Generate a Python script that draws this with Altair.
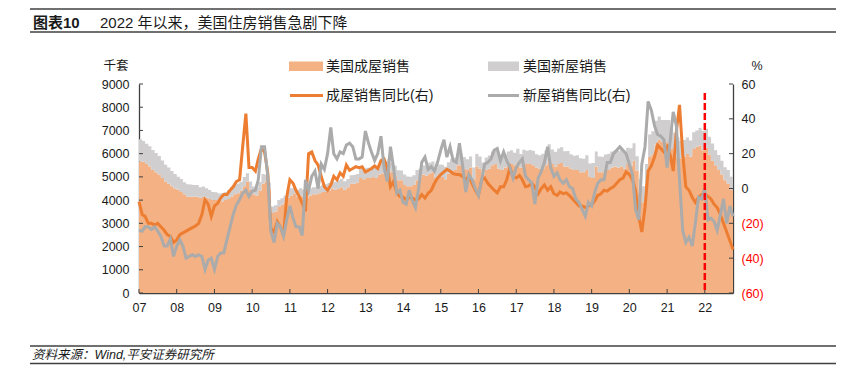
import altair as alt
import pandas as pd

# ---------------- data ----------------
months = pd.date_range("2007-01-01", "2022-10-01", freq="MS")
tick_years = list(range(2007, 2023))

# 美国成屋销售 (千套)
existing_sales = [
    5660, 5650, 5550, 5450, 5300, 5200, 5100, 4950, 4800, 4700, 4600, 4500,
    4450, 4350, 4250, 4150, 4150, 4150, 4150, 4100, 4150, 4100, 4050, 4000,
    4000, 3950, 3950, 4000, 4050, 4150, 4250, 4300, 4400, 4600, 4800, 4450,
    4250, 4200, 4400, 4700, 4800, 4450, 3450, 3500, 3700, 3800, 3900, 4100,
    4200, 4300, 4150, 4200, 4150, 4100, 4200, 4250, 4250, 4300, 4350, 4350,
    4400, 4500, 4450, 4500, 4550, 4450, 4550, 4700, 4700, 4750, 4950, 4900,
    4950, 4950, 5000, 4950, 5100, 5150, 5300, 5350, 5200, 5050, 4850, 4850,
    4650, 4600, 4600, 4650, 4850, 4950, 5100, 5050, 5150, 5200, 4950, 5050,
    5000, 4900, 5150, 5250, 5300, 5500, 5500, 5350, 5300, 5400, 4900, 5450,
    5350, 5100, 5300, 5350, 5500, 5550, 5350, 5300, 5400, 5500, 5550, 5500,
    5600, 5400, 5550, 5550, 5550, 5500, 5400, 5350, 5350, 5500, 5700, 5550,
    5450, 5550, 5600, 5450, 5450, 5350, 5300, 5300, 5200, 5200, 5300, 5000,
    4950, 5450, 5200, 5200, 5350, 5300, 5400, 5450, 5400, 5450, 5350, 5550,
    5460, 5700, 5270, 4330, 3910, 4720, 5860, 5970, 6400, 6600, 6500, 6500,
    6450, 6200, 6000, 5850, 5800, 5870, 5990, 5880, 6200, 6300, 6350, 6150,
    6250, 5950, 5700, 5500, 5300, 5100, 4850, 4700, 4450, 4150,
]

# 美国新屋销售 (千套, stacked on top)
new_sales = [
    960, 900, 880, 870, 860, 830, 800, 760, 720, 700, 650, 620,
    560, 560, 520, 530, 520, 500, 500, 450, 440, 410, 390, 350,
    340, 340, 350, 340, 370, 400, 410, 410, 390, 400, 360, 350,
    340, 340, 380, 420, 290, 300, 280, 280, 300, 280, 290, 330,
    310, 280, 300, 310, 300, 300, 300, 300, 310, 310, 310, 330,
    340, 350, 340, 360, 370, 360, 360, 370, 380, 370, 390, 390,
    440, 440, 440, 430, 430, 460, 380, 420, 400, 430, 440, 430,
    450, 420, 410, 420, 450, 410, 390, 440, 460, 460, 440, 480,
    520, 540, 480, 520, 520, 480, 510, 510, 460, 480, 500, 540,
    530, 520, 530, 570, 590, 560, 630, 560, 560, 590, 600, 540,
    610, 590, 620, 580, 610, 630, 570, 580, 650, 640, 710, 630,
    630, 670, 680, 650, 660, 630, 610, 630, 600, 580, 630, 580,
    650, 640, 680, 670, 610, 700, 690, 690, 720, 730, 720, 700,
    770, 750, 620, 570, 690, 830, 970, 1000, 1020, 1000, 950, 950,
    1000, 850, 900, 850, 750, 720, 710, 690, 720, 700, 760, 840,
    820, 780, 740, 650, 640, 590, 560, 600, 560, 480,
]

# 成屋销售同比 (%, right axis)
existing_yoy = [
    -7.5, -15, -16, -20, -20, -21, -20, -22, -24, -26.5, -27.5, -31,
    -29.5, -26.5, -25.5, -24.5, -23.5, -22.5, -21.5, -20, -15, -6.5, -9, -16,
    -10, -8.5, -5.5, -3.5, -3.5, -1, 1, 4, 5, 24, 43, 12,
    12, 10, 17, 23, 21, 9, -23, -25, -19, -22, -27, -5,
    5, 3, -1, -4.5, -8.5, -13, 20, 21, 16, 13.5, 7, 1,
    -1, 2, 7, 5, 9, 7, 13.5, 10.5, 11.5, 12.5, 12, 12.5,
    9.5, 10.5, 11.5, 13, 11.5, 16, 17, 11.5, 1, 4, -2.5, -4.5,
    -5, -6.5, -5, -5.5, -6.5, -6, -3.5, -5.5, -2.7, -1, 3, 6,
    8, 9.5, 11, 10, 8.5, 8, 8, 7, 5, 7, 3, -1,
    -4, 5, 6, 3, 1, -1, -2.5, 1, 1, 5, 12, 7,
    6, 7.5, 5, 1, 1.5, 3, 1, -3, 0, 2, -1, 1,
    -3, -4, -2, -3, -2.5, -4, -6, -8, -10, -10, -11, -10,
    -9.5, -7, -4, -3, -1, -1.5, 0, 1, 3, 5, 6, 9.5,
    8, 5, -1, -16, -25, -11, 10, 13, 18, 25, 23, 21,
    24, 19, 10, 33, 48, 20, 1, -1, -5, -8, -5, -3.5,
    -3, -4.5, -6, -9, -11, -15, -20, -25, -30, -35,
]

# 新屋销售同比 (%, right axis)
new_yoy = [
    -24, -24.5, -22, -22, -23.5, -22, -24.5, -27.5, -33, -33, -29, -39,
    -33, -29.5, -33, -40, -39, -38, -39, -38, -39, -46.5, -41, -40,
    -46.5, -39, -37, -37, -29.5, -22, -15, -9.5, -6.5, -2.7, -1, -4.5,
    -1.5, -1, 5, 24, 24, 7, -24.5, -31, -20, -22, -27.5, -18,
    -10, -17, -22, -22, -27, 5, -1, 7, 10, 0, 14, 11,
    20, 35, 20, 17, 21, 20, 25, 26, 24, 17, 17, 18,
    33, 26, 21, 16, 20, 30, 12, 4, 24, 12, -2.7, -1,
    -8, -9, -1, -7, -11, 0, 15, 18, 11, 12.5, 10, 15,
    22, 28, 18, 24, 16, 15, 26, 13, -2, 8, 5, 0,
    -4, 5, 14, 15, 17, 22, 23, 16, 21, 16, 12, 6,
    12, 15, 17, 7, 5, 3, -9, 6, 10, 15, 24, 12,
    7, 9, 5, 3, 5, 1, 0, -6, -8, -12, -16, -8,
    -10, -2, 3, 5, 5, 15, 15, 20, 22, 24, 22, 20,
    14, 8, -12, -18, 14, 24, 50, 45, 36, 31, 30, 28,
    12, 28, 44, 36, 5, -24, -31, -28, -33, -20, -5, -6,
    0, -18, -17, -19, -24, -15, -6, -20, -10, -16,
]

left_ticks = [0, 1000, 2000, 3000, 4000, 5000, 6000, 7000, 8000, 9000]
right_ticks = [-60, -40, -20, 0, 20, 40, 60]
marker_date = ["2022-01-01"]

title_tag = "图表10"
title_text = "2022 年以来，美国住房销售急剧下降"
source_text = "资料来源：Wind,平安证券研究所"
legend_labels = ["美国成屋销售", "美国新屋销售", "成屋销售同比(右)", "新屋销售同比(右)"]

# ---------------- styling ----------------
W, H = 594, 209
FONT = "'Liberation Sans', 'Noto Sans CJK SC', sans-serif"
ORANGE_AREA = "#F4B183"
GRAY_AREA = "#D0CECE"
ORANGE_LINE = "#ED7D31"
GRAY_LINE = "#ABABAB"
AXIS_COLOR = "#404040"
TEXT_COLOR = "#1a1a1a"

df = pd.DataFrame({
    "date": months,
    "exist": existing_sales,
    "new": new_sales,
    "ey": existing_yoy,
    "ny": new_yoy,
})

x_scale = alt.Scale(domain=[alt.DateTime(year=2007, month=1, date=1),
                            alt.DateTime(year=2022, month=10, date=1)])
x_axis = alt.Axis(
    values=[alt.DateTime(year=y, month=1, date=1) for y in tick_years],
    labelExpr="timeFormat(datum.value, '%y')",
    title=None, ticks=False, tickSize=0, grid=False, labelAngle=0,
    labelFlush=False, labelOverlap=False, labelPadding=8,
    labelFontSize=12.5, labelColor=TEXT_COLOR,
    domainColor=AXIS_COLOR, domainWidth=1.3,
)


def X():
    return alt.X("date:T", scale=x_scale, axis=x_axis)


ly_scale = alt.Scale(domain=[0, 9000], nice=False)
ly_axis = alt.Axis(
    values=left_ticks, format="d", title=None, ticks=False, tickSize=0,
    grid=False, labelPadding=10, labelFontSize=12.5, labelColor=TEXT_COLOR,
    domainColor=AXIS_COLOR, domainWidth=1.3, orient="left",
)
ry_scale = alt.Scale(domain=[-60, 60], nice=False)
ry_axis = alt.Axis(
    values=right_ticks,
    labelExpr="datum.value < 0 ? '(' + (-datum.value) + ')' : '' + datum.value",
    labelColor={"expr": "datum.value < 0 ? '#FF0000' : '#1a1a1a'"},
    title=None, ticks=False, tickSize=0, grid=False, labelPadding=8,
    labelFontSize=12.5, domainColor=AXIS_COLOR, domainWidth=1.3, orient="right",
)

base = alt.Chart(df)

area_exist = base.mark_area(color=ORANGE_AREA, interpolate="step-after").encode(
    x=X(), y=alt.Y("exist:Q", scale=ly_scale, axis=ly_axis)
)
area_new = base.transform_calculate(total="datum.exist + datum.new").mark_area(
    color=GRAY_AREA, interpolate="step-after"
).encode(
    x=X(), y=alt.Y("total:Q", scale=ly_scale, axis=ly_axis), y2="exist:Q"
)
left_tick_marks = alt.Chart(pd.DataFrame({"v": left_ticks})).mark_rule(
    color=AXIS_COLOR, strokeWidth=1
).encode(
    y=alt.Y("v:Q", scale=ly_scale, axis=ly_axis), x=alt.value(0), x2=alt.value(4)
)
x_tick_marks = alt.Chart(pd.DataFrame({"date": pd.to_datetime([f"{y}-01-01" for y in tick_years])})).mark_rule(
    color=AXIS_COLOR, strokeWidth=1
).encode(x=X(), y=alt.value(H), y2=alt.value(H - 4))

left = alt.layer(area_exist, area_new, left_tick_marks, x_tick_marks)

line_exist = base.mark_line(color=ORANGE_LINE, strokeWidth=3).encode(
    x=X(), y=alt.Y("ey:Q", scale=ry_scale, axis=ry_axis)
)
line_new = base.mark_line(color=GRAY_LINE, strokeWidth=3).encode(
    x=X(), y=alt.Y("ny:Q", scale=ry_scale, axis=ry_axis)
)
right_tick_marks = alt.Chart(pd.DataFrame({"r": right_ticks})).mark_rule(
    color=AXIS_COLOR, strokeWidth=1
).encode(
    y=alt.Y("r:Q", scale=ry_scale, axis=ry_axis), x=alt.value(W - 4), x2=alt.value(W)
)
right = alt.layer(line_exist, line_new, right_tick_marks)

red_rule = alt.Chart(pd.DataFrame({"date": pd.to_datetime(marker_date)})).mark_rule(
    color="#FF0000", strokeWidth=2.5, strokeDash=[7, 3]
).encode(x=X(), y=alt.value(9), y2=alt.value(207))

one = pd.DataFrame({"k": [0]})


def txt(s, x, y, size=12.5, align="left", weight="normal", style="normal", color=TEXT_COLOR):
    return alt.Chart(one).mark_text(
        text=s, align=align, baseline="middle", fontSize=size, fontWeight=weight,
        fontStyle=style, color=color, font=FONT
    ).encode(x=alt.value(x), y=alt.value(y))


def hline(x1, x2, y, color="#404040", w=1.3):
    return alt.Chart(one).mark_rule(color=color, strokeWidth=w).encode(
        x=alt.value(x1), x2=alt.value(x2), y=alt.value(y)
    )


def swatch(x1, x2, y1, y2, color):
    return alt.Chart(one).mark_rect(color=color).encode(
        x=alt.value(x1), x2=alt.value(x2), y=alt.value(y1), y2=alt.value(y2)
    )


decor = [
    hline(-109, 697, -75),
    txt(title_tag, -106, -61.5, size=15, weight="bold"),
    txt(title_text, -39, -61.5, size=15),
    hline(-109, 697, -52),
    hline(-109, 697, 262),
    txt(source_text, -107, 271, size=12.5, style="italic"),
    hline(-109, 697, 279.5),
    txt("千套", -23, -18, size=12.5, align="center"),
    txt("%", 618, -18, size=12.5, align="center"),
    swatch(150, 184, -22.5, -13, ORANGE_AREA),
    txt(legend_labels[0], 187, -17.5, size=14),
    swatch(349, 380, -22.5, -13, GRAY_AREA),
    txt(legend_labels[1], 384, -17.5, size=14),
    hline(151, 184, 11.5, color=ORANGE_LINE, w=3),
    txt(legend_labels[2], 187, 12, size=14),
    hline(349, 380, 11.5, color=GRAY_LINE, w=3),
    txt(legend_labels[3], 384, 12, size=14),
]

chart = alt.layer(left, right, red_rule, *decor).resolve_scale(y="independent").properties(
    width=W, height=H,
    padding={"left": 131, "top": 76, "right": 117, "bottom": 86},
    autosize=alt.AutoSizeParams(type="none"),
).configure(font=FONT).configure_view(stroke=None).configure_axis(labelFont=FONT)

chart.save("out.html", embed_options={"renderer": "svg", "actions": False})
